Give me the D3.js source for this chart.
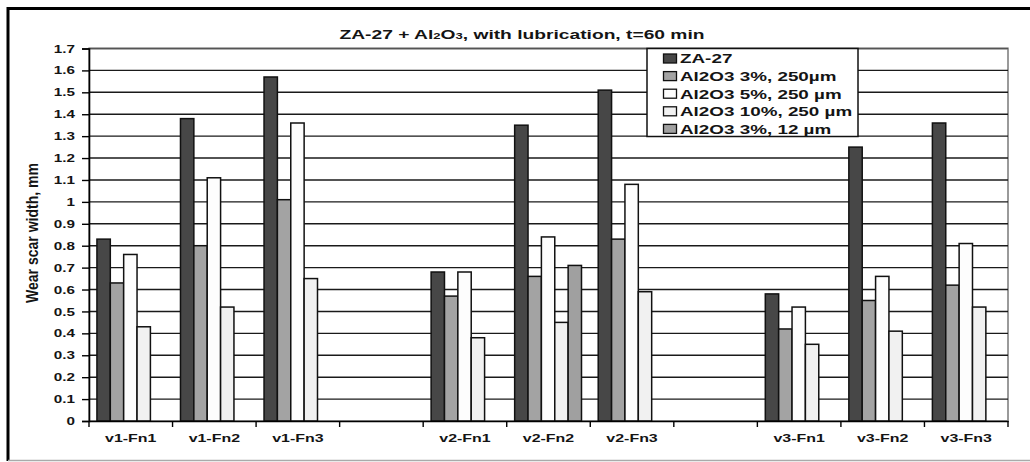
<!DOCTYPE html>
<html>
<head>
<meta charset="utf-8">
<script src="https://cdn.jsdelivr.net/npm/d3@7"></script>
<style>
  html, body { margin: 0; padding: 0; background: #fff; }
  svg { display: block; }
  text { font-family: "Liberation Sans", Arial, sans-serif; font-weight: bold; fill: #141414; }
</style>
</head>
<body>
<svg id="chart" width="1030" height="462"></svg>
<script>
// ---- data ----
const categories = ["v1-Fn1", "v1-Fn2", "v1-Fn3", "", "v2-Fn1", "v2-Fn2", "v2-Fn3", "", "v3-Fn1", "v3-Fn2", "v3-Fn3"];
const seriesNames = ["ZA-27", "Al2O3 3%, 250\u00b5m", "Al2O3 5%, 250 \u00b5m", "Al2O3 10%, 250 \u00b5m", "Al2O3 3%, 12 \u00b5m"];
const za27      = [0.83, 1.38, 1.57, null, 0.68, 1.35, 1.51, null, 0.58, 1.25, 1.36];
const al3_250   = [0.63, 0.80, 1.01, null, 0.57, 0.66, 0.83, null, 0.42, 0.55, 0.62];
const al5_250   = [0.76, 1.11, 1.36, null, 0.68, 0.84, 1.08, null, 0.52, 0.66, 0.81];
const al10_250  = [0.43, 0.52, 0.65, null, 0.38, 0.45, 0.59, null, 0.35, 0.41, 0.52];
const al3_12    = [null, null, null, null, null, 0.71, null, null, null, null, null];
const yTicks = [0, 0.1, 0.2, 0.3, 0.4, 0.5, 0.6, 0.7, 0.8, 0.9, 1, 1.1, 1.2, 1.3, 1.4, 1.5, 1.6, 1.7];
const titleText = ["ZA-27 + Al", "2", "O", "3", ", with lubrication, t=60 min"];
const yTitle = "Wear scar width, mm";

const seriesValues = [za27, al3_250, al5_250, al10_250, al3_12];
const fills = ["#474747", "#a3a3a3", "#fdfdfd", "#f1f1f1", "#a0a0a0"];

// ---- layout ----
const SX = 1.45; // horizontal text stretch of the original image
const svg = d3.select("#chart");
const L = 89, R = 1008, T = 48.5, B = 421;

const x = d3.scaleBand().domain(d3.range(categories.length)).range([L, R]).padding(0);
const bw = x.bandwidth();
const x1 = d3.scaleBand().domain(d3.range(seriesValues.length)).range([bw * 0.095, bw * 0.895]).padding(0);
const y = d3.scaleLinear().domain([0, 1.7]).range([B, T]);

// outer frame
svg.append("line").attr("x1", 7).attr("x2", 1030).attr("y1", 8.5).attr("y2", 8.5).attr("stroke", "#000").attr("stroke-width", 3);
svg.append("line").attr("x1", 8).attr("x2", 8).attr("y1", 7).attr("y2", 461).attr("stroke", "#000").attr("stroke-width", 3);
svg.append("line").attr("x1", 8).attr("x2", 1030).attr("y1", 460.5).attr("y2", 460.5).attr("stroke", "#aaa").attr("stroke-width", 1.5);

// plot border (gray)
svg.append("rect").attr("x", L).attr("y", T).attr("width", R - L).attr("height", B - T)
  .attr("fill", "none").attr("stroke", "#9a9a9a").attr("stroke-width", 2);

// gridlines
svg.append("g").selectAll("line").data(yTicks.filter(v => v > 0)).join("line")
  .attr("x1", L).attr("x2", R)
  .attr("y1", d => y(d)).attr("y2", d => y(d))
  .attr("stroke", d => d === 1.7 ? "#555" : "#1a1a1a").attr("stroke-width", 1.4);

// bars
const groups = svg.append("g").selectAll("g").data(seriesValues).join("g")
  .attr("fill", (d, i) => fills[i]);
groups.each(function(vals, si) {
  d3.select(this).selectAll("rect")
    .data(vals.map((v, ci) => ({ v, ci })).filter(d => d.v != null))
    .join("rect")
    .attr("x", d => x(d.ci) + x1(si))
    .attr("width", x1.bandwidth())
    .attr("y", d => y(d.v))
    .attr("height", d => y(0) - y(d.v))
    .attr("stroke", "#111").attr("stroke-width", 1.5);
});

// y axis
const yAxis = svg.append("g").attr("transform", `translate(${L},0)`)
  .call(d3.axisLeft(y).tickValues(yTicks).tickSize(7).tickPadding(9).tickFormat(d3.format("")));
yAxis.select(".domain").attr("stroke", "#000").attr("stroke-width", 1.6);
yAxis.selectAll(".tick line").attr("stroke", "#000").attr("stroke-width", 1.4);
yAxis.selectAll(".tick text")
  .attr("font-size", 10.5).attr("font-family", null).attr("fill", "#1a1a2a")
  .attr("x", -14 / SX).attr("dy", "0.34em")
  .attr("transform", `scale(${SX},1)`);

// x axis
const xAxis = svg.append("g").attr("transform", `translate(0,${B})`)
  .call(d3.axisBottom(x).tickSize(0).tickPadding(0).tickFormat(i => categories[i]));
xAxis.select(".domain").attr("stroke", "#000").attr("stroke-width", 1.6);
xAxis.selectAll(".tick text")
  .attr("font-size", 11).attr("font-family", null).attr("fill", "#1a1a2a")
  .attr("y", 21).attr("dy", 0)
  .attr("transform", `scale(${SX},1)`)
  .attr("x", 0);
// boundary tick marks
svg.append("g").selectAll("line").data(d3.range(categories.length + 1)).join("line")
  .attr("x1", i => L + i * bw).attr("x2", i => L + i * bw)
  .attr("y1", B).attr("y2", B + 6)
  .attr("stroke", "#000").attr("stroke-width", 1.4);

// title
const title = svg.append("text").attr("x", 522).attr("y", 39)
  .attr("text-anchor", "middle").attr("font-size", 12.5)
  .attr("textLength", 365).attr("lengthAdjust", "spacingAndGlyphs");
titleText.forEach((t, i) => {
  const ts = title.append("tspan").text(t);
  if (t === "2" || t === "3") ts.attr("font-size", 8.5);
});

// y title
svg.append("text")
  .attr("transform", `translate(38,233) scale(${SX},1) rotate(-90)`)
  .attr("text-anchor", "middle").attr("font-size", 11.5)
  .attr("textLength", 140).attr("lengthAdjust", "spacingAndGlyphs")
  .attr("fill", "#1a1a2a")
  .text(yTitle);

// legend
const lg = svg.append("g");
lg.append("rect").attr("x", 647).attr("y", 48.5).attr("width", 211).attr("height", 88)
  .attr("fill", "#fff").attr("stroke", "#111").attr("stroke-width", 1.5);
const items = lg.selectAll("g.item").data(seriesNames).join("g").attr("class", "item")
  .attr("transform", (d, i) => `translate(0,${58.5 + i * 17.6})`);
items.append("rect").attr("x", 663.5).attr("y", -4.5).attr("width", 13).attr("height", 9)
  .attr("fill", (d, i) => fills[i]).attr("stroke", "#111").attr("stroke-width", 1.3);
items.append("text")
  .attr("transform", `translate(680,0) scale(${SX},1)`)
  .attr("y", 4.8).attr("font-size", 13).attr("fill", "#10103a")
  .text(d => d);
</script>
</body>
</html>
